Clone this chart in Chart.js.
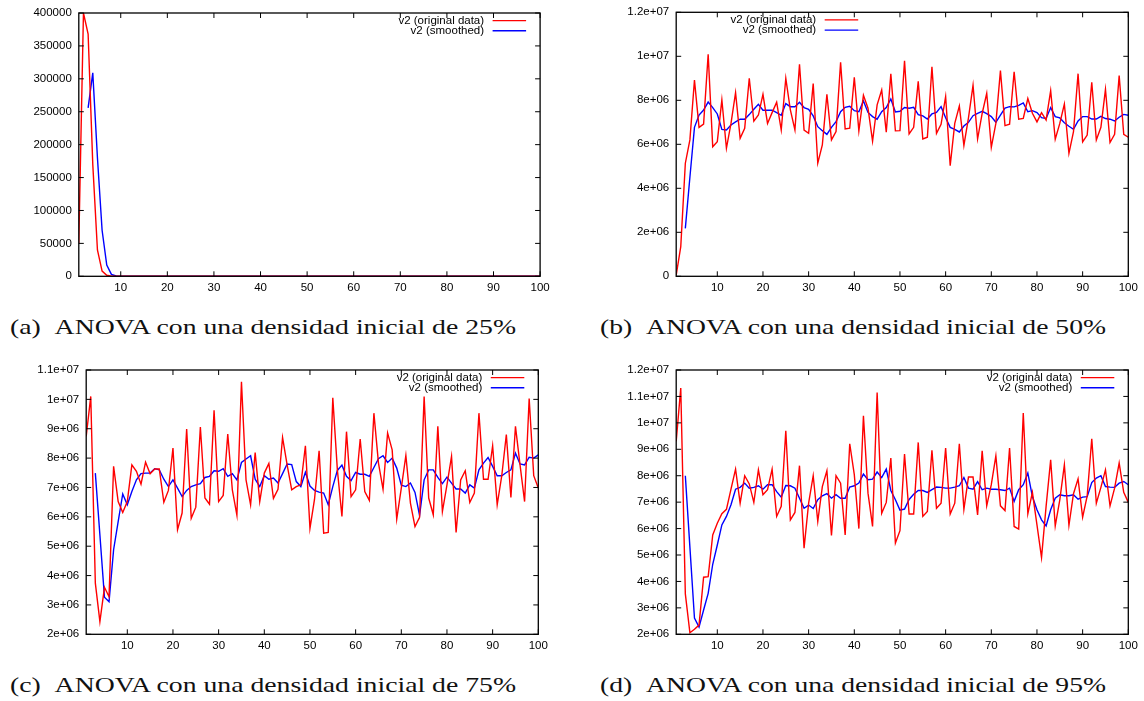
<!DOCTYPE html>
<html>
<head>
<meta charset="utf-8">
<script src="https://cdn.jsdelivr.net/npm/chart.js@4.4.1/dist/chart.umd.min.js"></script>
<style>
  html, body { margin: 0; padding: 0; background: #fff; }
  body { width: 1144px; height: 701px; position: relative; overflow: hidden; }
  canvas { position: absolute; }
  .cap {
    position: absolute;
    font-family: "Liberation Serif", "DejaVu Serif", serif;
    font-size: 21px;
    line-height: 21px;
    white-space: nowrap;
    color: #111;
    transform-origin: 0 0;
  }
</style>
</head>
<body>
<canvas id="panelA" width="572" height="300" style="left:0px;top:0px"></canvas>
<canvas id="panelB" width="572" height="300" style="left:572px;top:0px"></canvas>
<canvas id="panelC" width="572" height="300" style="left:0px;top:358px"></canvas>
<canvas id="panelD" width="572" height="300" style="left:572px;top:358px"></canvas>

<div class="cap" style="left:10px;top:317px">(a)&ensp;ANOVA con una densidad inicial de 25%</div>
<div class="cap" style="left:600px;top:317px">(b)&ensp;ANOVA con una densidad inicial de 50%</div>
<div class="cap" style="left:10px;top:675px">(c)&ensp;ANOVA con una densidad inicial de 75%</div>
<div class="cap" style="left:600px;top:675px">(d)&ensp;ANOVA con una densidad inicial de 95%</div>

<script>
// Iteration numbers (x axis)
const iterations = [
  1, 2, 3, 4, 5, 6, 7, 8, 9, 10,
  11, 12, 13, 14, 15, 16, 17, 18, 19, 20,
  21, 22, 23, 24, 25, 26, 27, 28, 29, 30,
  31, 32, 33, 34, 35, 36, 37, 38, 39, 40,
  41, 42, 43, 44, 45, 46, 47, 48, 49, 50,
  51, 52, 53, 54, 55, 56, 57, 58, 59, 60,
  61, 62, 63, 64, 65, 66, 67, 68, 69, 70,
  71, 72, 73, 74, 75, 76, 77, 78, 79, 80,
  81, 82, 83, 84, 85, 86, 87, 88, 89, 90,
  91, 92, 93, 94, 95, 96, 97, 98, 99, 100
];
const xTickValues = [10, 20, 30, 40, 50, 60, 70, 80, 90, 100];

// 25% initial density
const originalA = [
  5e4, 4e5, 3.68e5, 1.7e5, 4e4, 8e3, 1.5e3, 300, 0, 0,
  0, 0, 0, 0, 0, 0, 0, 0, 0, 0,
  0, 0, 0, 0, 0, 0, 0, 0, 0, 0,
  0, 0, 0, 0, 0, 0, 0, 0, 0, 0,
  0, 0, 0, 0, 0, 0, 0, 0, 0, 0,
  0, 0, 0, 0, 0, 0, 0, 0, 0, 0,
  0, 0, 0, 0, 0, 0, 0, 0, 0, 0,
  0, 0, 0, 0, 0, 0, 0, 0, 0, 0,
  0, 0, 0, 0, 0, 0, 0, 0, 0, 0,
  0, 0, 0, 0, 0, 0, 0, 0, 0, 0
];
const smoothedA = [
  null, null, 2.56e5, 3.09e5, 1.8e5, 7e4, 1.7e4, 3e3, 500, 0,
  0, 0, 0, 0, 0, 0, 0, 0, 0, 0,
  0, 0, 0, 0, 0, 0, 0, 0, 0, 0,
  0, 0, 0, 0, 0, 0, 0, 0, 0, 0,
  0, 0, 0, 0, 0, 0, 0, 0, 0, 0,
  0, 0, 0, 0, 0, 0, 0, 0, 0, 0,
  0, 0, 0, 0, 0, 0, 0, 0, 0, 0,
  0, 0, 0, 0, 0, 0, 0, 0, 0, 0,
  0, 0, 0, 0, 0, 0, 0, 0, 0, 0,
  0, 0, 0, 0, 0, 0, 0, 0, 0, 0
];
const yTicksA = [0, 50000, 100000, 150000, 200000, 250000, 300000, 350000, 400000];
const yLabelsA = ['0', '50000', '100000', '150000', '200000', '250000', '300000', '350000', '400000'];

// 50% initial density
const originalB = [
  0.05e6, 1.35e6, 5.14e6, 6.2e6, 8.92e6, 6.77e6, 6.92e6, 10.09e6, 5.89e6, 6.12e6,
  8.02e6, 5.82e6, 6.95e6, 8.35e6, 6.27e6, 6.73e6, 9.0e6, 7.05e6, 7.33e6, 8.27e6,
  6.95e6, 7.44e6, 7.91e6, 6.65e6, 9.0e6, 7.56e6, 6.65e6, 9.64e6, 6.65e6, 6.5e6,
  8.76e6, 5.14e6, 5.97e6, 8.27e6, 6.2e6, 6.58e6, 9.73e6, 6.7e6, 6.73e6, 9.05e6,
  6.61e6, 8.23e6, 7.64e6, 6.14e6, 7.79e6, 8.47e6, 6.55e6, 9.2e6, 6.61e6, 6.62e6,
  9.8e6, 6.47e6, 6.77e6, 8.86e6, 6.24e6, 6.32e6, 9.52e6, 6.5e6, 6.91e6, 8.17e6,
  5.03e6, 6.95e6, 7.74e6, 5.95e6, 7.2e6, 8.68e6, 6.24e6, 7.4e6, 8.32e6, 5.86e6,
  6.95e6, 9.35e6, 6.85e6, 6.91e6, 9.3e6, 7.14e6, 7.18e6, 8.08e6, 7.41e6, 7.02e6,
  7.44e6, 7.1e6, 8.44e6, 6.23e6, 6.95e6, 7.83e6, 5.59e6, 6.58e6, 9.21e6, 6.11e6,
  6.42e6, 8.82e6, 6.2e6, 6.77e6, 8.5e6, 6.08e6, 6.45e6, 9.12e6, 6.45e6, 6.32e6
];
const smoothedB = [
  null, null, 2.18e6, 4.5e6, 6.77e6, 7.33e6, 7.56e6, 7.92e6, 7.67e6, 7.38e6,
  6.68e6, 6.65e6, 6.88e6, 7.02e6, 7.14e6, 7.14e6, 7.35e6, 7.59e6, 7.82e6, 7.55e6,
  7.55e6, 7.55e6, 7.44e6, 7.32e6, 7.85e6, 7.71e6, 7.71e6, 7.91e6, 7.67e6, 7.59e6,
  7.29e6, 6.8e6, 6.62e6, 6.45e6, 6.77e6, 7.03e6, 7.48e6, 7.68e6, 7.73e6, 7.53e6,
  7.48e6, 7.97e6, 7.45e6, 7.26e6, 7.14e6, 7.48e6, 7.67e6, 8.06e6, 7.47e6, 7.5e6,
  7.67e6, 7.64e6, 7.68e6, 7.35e6, 7.29e6, 7.15e6, 7.38e6, 7.45e6, 7.71e6, 7.21e6,
  6.77e6, 6.68e6, 6.56e6, 6.83e6, 7.0e6, 7.3e6, 7.41e6, 7.5e6, 7.39e6, 7.26e6,
  7.0e6, 7.33e6, 7.65e6, 7.71e6, 7.7e6, 7.77e6, 7.88e6, 7.48e6, 7.53e6, 7.44e6,
  7.21e6, 7.17e6, 7.67e6, 7.26e6, 7.2e6, 6.98e6, 6.82e6, 6.68e6, 7.06e6, 7.26e6,
  7.26e6, 7.15e6, 7.15e6, 7.27e6, 7.17e6, 7.14e6, 7.06e6, 7.23e6, 7.36e6, 7.32e6
];
const yTicksB = [0, 2e6, 4e6, 6e6, 8e6, 1e7, 1.2e7];
const yLabelsB = ['0', '2e+06', '4e+06', '6e+06', '8e+06', '1e+07', '1.2e+07'];

// 75% initial density
const originalC = [
  8.74e6, 10.1e6, 3.74e6, 2.43e6, 3.6e6, 3.28e6, 7.72e6, 6.52e6, 6.15e6, 6.52e6,
  7.77e6, 7.55e6, 7.11e6, 7.86e6, 7.47e6, 7.63e6, 7.63e6, 6.5e6, 6.9e6, 8.34e6,
  5.56e6, 6.13e6, 8.99e6, 5.95e6, 6.33e6, 9.06e6, 6.64e6, 6.43e6, 9.63e6, 6.52e6,
  6.73e6, 8.82e6, 6.92e6, 6.06e6, 10.6e6, 7.26e6, 6.41e6, 8.19e6, 6.52e6, 7.49e6,
  7.82e6, 6.63e6, 6.94e6, 8.7e6, 7.77e6, 6.92e6, 7.03e6, 7.09e6, 8.42e6, 5.61e6,
  6.6e6, 8.25e6, 5.44e6, 5.47e6, 10.05e6, 7.6e6, 6.01e6, 8.9e6, 6.69e6, 6.92e6,
  8.65e6, 6.86e6, 6.56e6, 9.53e6, 7.83e6, 6.94e6, 8.85e6, 8.28e6, 5.92e6, 6.98e6,
  8.09e6, 6.47e6, 5.67e6, 5.98e6, 10.1e6, 6.64e6, 6.07e6, 9.08e6, 6.18e6, 7.09e6,
  8.06e6, 5.47e6, 7.26e6, 7.57e6, 6.49e6, 6.81e6, 9.53e6, 7.28e6, 7.28e6, 8.42e6,
  6.41e6, 7.4e6, 8.8e6, 6.66e6, 9.08e6, 7.77e6, 6.52e6, 10.03e6, 7.4e6, 6.98e6
];
const smoothedC = [
  null, null, 7.49e6, 5.38e6, 3.26e6, 3.11e6, 4.88e6, 5.84e6, 6.78e6, 6.41e6,
  6.86e6, 7.26e6, 7.47e6, 7.49e6, 7.49e6, 7.64e6, 7.6e6, 7.28e6, 7.03e6, 7.26e6,
  6.98e6, 6.69e6, 6.9e6, 7.03e6, 7.09e6, 7.13e6, 7.34e6, 7.38e6, 7.57e6, 7.55e6,
  7.64e6, 7.38e6, 7.47e6, 7.26e6, 7.85e6, 7.97e6, 8.08e6, 7.28e6, 7.03e6, 7.4e6,
  7.28e6, 7.32e6, 7.15e6, 7.47e6, 7.8e6, 7.78e6, 7.2e6, 7.03e6, 7.52e6, 7.05e6,
  6.9e6, 6.84e6, 6.81e6, 6.41e6, 7.03e6, 7.58e6, 7.76e6, 7.38e6, 7.23e6, 7.51e6,
  7.45e6, 7.45e6, 7.38e6, 7.68e6, 7.98e6, 8.08e6, 7.85e6, 8.0e6, 7.66e6, 7.08e6,
  7.03e6, 7.15e6, 6.83e6, 6.05e6, 7.26e6, 7.6e6, 7.6e6, 7.34e6, 7.13e6, 7.35e6,
  7.15e6, 6.95e6, 6.95e6, 6.81e6, 7.09e6, 6.98e6, 7.6e6, 7.83e6, 8.02e6, 7.72e6,
  7.4e6, 7.4e6, 7.51e6, 7.6e6, 8.17e6, 7.8e6, 7.77e6, 8.03e6, 8.0e6, 8.11e6
];
const yTicksC = [2e6, 3e6, 4e6, 5e6, 6e6, 7e6, 8e6, 9e6, 1e7, 1.1e7];
const yLabelsC = ['2e+06', '3e+06', '4e+06', '5e+06', '6e+06', '7e+06', '8e+06', '9e+06', '1e+07', '1.1e+07'];

// 95% initial density
const originalD = [
  9.3e6, 11.32e6, 3.53e6, 2.06e6, 2.19e6, 2.35e6, 4.16e6, 4.18e6, 5.76e6, 6.2e6,
  6.56e6, 6.73e6, 7.49e6, 8.25e6, 6.96e6, 8.0e6, 7.69e6, 6.99e6, 8.22e6, 7.28e6,
  7.47e6, 8.25e6, 6.46e6, 6.84e6, 9.7e6, 6.33e6, 6.61e6, 8.38e6, 5.26e6, 6.96e6,
  8.0e6, 6.27e6, 7.59e6, 8.19e6, 5.74e6, 8.0e6, 7.72e6, 5.76e6, 9.21e6, 8.04e6,
  6.0e6, 10.27e6, 7.34e6, 6.08e6, 11.15e6, 6.58e6, 6.99e6, 8.67e6, 5.45e6, 5.92e6,
  8.82e6, 6.55e6, 6.55e6, 9.26e6, 6.46e6, 6.65e6, 8.96e6, 6.77e6, 6.96e6, 9.05e6,
  6.55e6, 6.96e6, 9.21e6, 6.73e6, 7.95e6, 7.95e6, 6.52e6, 8.94e6, 6.86e6, 7.66e6,
  8.75e6, 6.86e6, 6.68e6, 9.05e6, 6.08e6, 5.98e6, 10.37e6, 6.56e6, 7.37e6, 6.14e6,
  4.9e6, 6.84e6, 8.6e6, 6.1e6, 7.09e6, 8.41e6, 6.12e6, 7.32e6, 7.88e6, 6.43e6,
  7.24e6, 9.4e6, 6.96e6, 7.56e6, 8.22e6, 6.86e6, 7.53e6, 8.48e6, 7.37e6, 6.99e6
];
const smoothedD = [
  null, null, 8.0e6, 5.3e6, 2.61e6, 2.27e6, 2.92e6, 3.55e6, 4.65e6, 5.38e6,
  6.14e6, 6.46e6, 6.9e6, 7.49e6, 7.56e6, 7.72e6, 7.53e6, 7.56e6, 7.62e6, 7.49e6,
  7.66e6, 7.66e6, 7.4e6, 7.19e6, 7.63e6, 7.62e6, 7.53e6, 7.15e6, 6.77e6, 6.89e6,
  6.76e6, 7.09e6, 7.24e6, 7.32e6, 7.15e6, 7.28e6, 7.15e6, 7.15e6, 7.57e6, 7.62e6,
  7.72e6, 8.06e6, 7.85e6, 7.87e6, 8.14e6, 7.93e6, 8.25e6, 7.44e6, 7.09e6, 6.7e6,
  6.74e6, 7.1e6, 7.3e6, 7.44e6, 7.44e6, 7.37e6, 7.47e6, 7.57e6, 7.56e6, 7.53e6,
  7.53e6, 7.57e6, 7.62e6, 7.93e6, 7.53e6, 7.49e6, 7.78e6, 7.47e6, 7.53e6, 7.49e6,
  7.49e6, 7.47e6, 7.44e6, 7.53e6, 7.03e6, 7.47e6, 7.66e6, 8.1e6, 7.21e6, 6.71e6,
  6.33e6, 6.1e6, 6.71e6, 7.15e6, 7.28e6, 7.24e6, 7.24e6, 7.28e6, 7.11e6, 7.19e6,
  7.21e6, 7.74e6, 7.91e6, 8.0e6, 7.59e6, 7.57e6, 7.56e6, 7.72e6, 7.78e6, 7.66e6
];
const yTicksD = [2e6, 3e6, 4e6, 5e6, 6e6, 7e6, 8e6, 9e6, 1e7, 1.1e7, 1.2e7];
const yLabelsD = ['2e+06', '3e+06', '4e+06', '5e+06', '6e+06', '7e+06', '8e+06', '9e+06', '1e+07', '1.1e+07', '1.2e+07'];

const seriesNames = ['v2 (original data)', 'v2 (smoothed)'];
const seriesColors = ['#ff0000', '#0000ff'];

const TICK_FONT = { family: '"Liberation Sans", Arial, sans-serif', size: 11.5 };
const LEGEND_FONT = '11.5px "Liberation Sans", Arial, sans-serif';
const Y_AXIS_W = 60;
const X_AXIS_H = 20;

// gnuplot-style frame: box border, inward mirrored tick marks and a
// "text then line sample" key.
const gnuplotFrame = {
  id: 'gnuplotFrame',
  afterDatasetsDraw(chart, args, opts) {
    const { ctx, chartArea: a } = chart;
    const xs = chart.scales.x, ys = chart.scales.y;
    ctx.save();
    ctx.strokeStyle = '#000';
    ctx.lineWidth = 1.3;
    ctx.strokeRect(a.left, a.top, a.right - a.left, a.bottom - a.top);
    ctx.lineWidth = 1;
    ctx.beginPath();
    const tl = 5;
    xs.ticks.forEach(t => {
      const px = xs.getPixelForValue(t.value);
      ctx.moveTo(px, a.bottom); ctx.lineTo(px, a.bottom - tl);
      ctx.moveTo(px, a.top); ctx.lineTo(px, a.top + tl);
    });
    ys.ticks.forEach(t => {
      const py = ys.getPixelForValue(t.value);
      ctx.moveTo(a.left, py); ctx.lineTo(a.left + tl, py);
      ctx.moveTo(a.right, py); ctx.lineTo(a.right - tl, py);
    });
    ctx.stroke();

    // key
    const textRight = opts.keyFromLeft != null ? a.left + opts.keyFromLeft : a.right - opts.keyFromRight;
    const rows = [a.top + 7.6, a.top + 17.8];
    ctx.font = LEGEND_FONT;
    ctx.textAlign = 'right';
    ctx.textBaseline = 'middle';
    chart.data.datasets.forEach((ds, i) => {
      ctx.fillStyle = '#000';
      ctx.fillText(ds.label, textRight, rows[i]);
      ctx.strokeStyle = ds.borderColor;
      ctx.lineWidth = 1.4;
      ctx.beginPath();
      ctx.moveTo(textRight + 8.5, rows[i]);
      ctx.lineTo(textRight + 42, rows[i]);
      ctx.stroke();
    });
    ctx.restore();
  }
};

function makePanel(id, original, smoothed, yTicks, yLabels, box, key) {
  const toPoints = arr => iterations.map((it, i) => ({ x: it, y: arr[i] }));
  return new Chart(document.getElementById(id), {
    type: 'line',
    data: {
      datasets: [
        { label: seriesNames[0], data: toPoints(original), borderColor: seriesColors[0], borderWidth: 1.4, pointRadius: 0, tension: 0, clip: 0 },
        { label: seriesNames[1], data: toPoints(smoothed), borderColor: seriesColors[1], borderWidth: 1.4, pointRadius: 0, tension: 0, clip: 0 }
      ]
    },
    options: {
      responsive: false,
      devicePixelRatio: 1,
      animation: false,
      events: [],
      layout: { padding: box },
      plugins: { legend: { display: false }, tooltip: { enabled: false }, gnuplotFrame: key },
      scales: {
        x: {
          type: 'linear',
          min: 1, max: 100,
          afterBuildTicks: s => { s.ticks = xTickValues.map(v => ({ value: v })); },
          afterFit: s => { s.height = X_AXIS_H; s.paddingLeft = s.paddingRight = 0; },
          grid: { display: false, drawTicks: false },
          border: { display: false },
          ticks: { font: TICK_FONT, color: '#000', padding: 5, maxRotation: 0, autoSkip: false, callback: v => String(v) }
        },
        y: {
          type: 'linear',
          min: yTicks[0], max: yTicks[yTicks.length - 1],
          afterBuildTicks: s => { s.ticks = yTicks.map(v => ({ value: v })); },
          afterFit: s => { s.width = Y_AXIS_W; s.paddingTop = s.paddingBottom = 0; },
          grid: { display: false, drawTicks: false },
          border: { display: false },
          ticks: { font: TICK_FONT, color: '#000', padding: 7, autoSkip: false, callback: (v, i) => yLabels[i] }
        }
      }
    },
    plugins: [gnuplotFrame]
  });
}

makePanel('panelA', originalA, smoothedA, yTicksA, yLabelsA,
  { left: 18.8, right: 31.9, top: 13, bottom: 3.7 }, { keyFromRight: 56 });
makePanel('panelB', originalB, smoothedB, yTicksB, yLabelsB,
  { left: 44.2, right: 15.7, top: 12.3, bottom: 3.7 }, { keyFromLeft: 140 });
makePanel('panelC', originalC, smoothedC, yTicksC, yLabelsC,
  { left: 26.2, right: 33.7, top: 12, bottom: 3.7 }, { keyFromRight: 56 });
makePanel('panelD', originalD, smoothedD, yTicksD, yLabelsD,
  { left: 44.2, right: 15.7, top: 12, bottom: 3.7 }, { keyFromRight: 56 });

// Sub-figure captions share one printed width
document.querySelectorAll('.cap').forEach(el => {
  const w = el.getBoundingClientRect().width;
  el.style.transform = 'scaleX(' + (506 / w).toFixed(4) + ')';
});
</script>
</body>
</html>
